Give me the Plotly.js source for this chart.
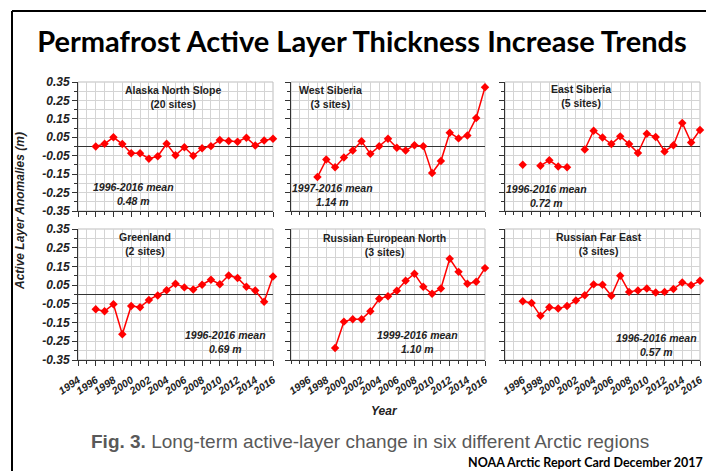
<!DOCTYPE html>
<html><head><meta charset="utf-8">
<script src="https://cdn.plot.ly/plotly-3.0.1.min.js"></script>
<style>html,body{margin:0;padding:0;background:#fff}#chart{width:706px;height:471px}</style>
</head><body><div id="chart"></div>
<script>
// ---- data ----
const years = [1996,1997,1998,1999,2000,2001,2002,2003,2004,2005,2006,2007,2008,2009,2010,2011,2012,2013,2014,2015,2016];
const alaska      = [0.000,0.015,0.050,0.013,-0.037,-0.037,-0.066,-0.053,0.015,-0.048,-0.004,-0.050,-0.010,0.002,0.035,0.030,0.026,0.048,0.005,0.033,0.042];
const westSiberia = [null,-0.166,-0.071,-0.113,-0.060,-0.022,0.029,-0.040,0.002,0.042,-0.007,-0.022,0.007,0.002,-0.144,-0.079,0.075,0.044,0.060,0.155,0.322];
const eastSiberia = [-0.099,null,-0.104,-0.075,-0.108,-0.113,null,-0.016,0.086,0.049,0.013,0.055,0.013,-0.035,0.069,0.051,-0.027,0.007,0.128,0.022,0.090];
const greenland   = [-0.079,-0.089,-0.052,-0.212,-0.061,-0.068,-0.029,-0.005,0.023,0.057,0.038,0.027,0.052,0.079,0.055,0.102,0.088,0.041,0.021,-0.039,0.096];
const ruEuroNorth = [null,null,null,-0.286,-0.145,-0.132,-0.132,-0.089,-0.023,-0.009,0.020,0.073,0.111,0.041,0.004,0.032,0.191,0.121,0.057,0.068,0.141];
const ruFarEast   = [-0.036,-0.045,-0.114,-0.068,-0.075,-0.062,-0.032,-0.004,0.054,0.052,-0.007,0.100,0.014,0.021,0.032,0.011,0.014,0.029,0.064,0.050,0.073];

const regionNames = ['Alaska North Slope','West Siberia','East Siberia','Greenland','Russian European North','Russian Far East'];
const siteCounts  = ['(20 sites)','(3 sites)','(5 sites)','(2 sites)','(3 sites)','(3 sites)'];
const meanPeriods = ['1996-2016 mean','1997-2016 mean','1996-2016 mean','1996-2016 mean','1999-2016 mean','1996-2016 mean'];
const meanValues  = ['0.48 m','1.14 m','0.72 m','0.69 m','1.10 m','0.57 m'];
const seriesList  = [alaska, westSiberia, eastSiberia, greenland, ruEuroNorth, ruFarEast];

const yTickVals = [0.35,0.25,0.15,0.05,-0.05,-0.15,-0.25,-0.35];
const yTickText = ['0.35','0.25','0.15','0.05','-0.05','-0.15','-0.25','-0.35'];
const xTickValsFull = [1994,1996,1998,2000,2002,2004,2006,2008,2010,2012,2014,2016];
const xTickValsShort = [1996,1998,2000,2002,2004,2006,2008,2010,2012,2014,2016];

// ---- layout helpers ----
const W = 706, H = 471;
const px = v => v / W;
const py = v => 1 - v / H;
const colPx = [[78,273],[291,485],[505,700]];
const rowPx = [[82,211],[229,360]];
const namePos = [[173,96.5],[330.5,97],[581,96],[144.5,244],[384,245],[599,244]];
const meanPos = [[133,193.5],[332,194.5],[546,196],[225.5,341.5],[417,341.5],[656,344.5]];

const gridCol = '#d4d4d4';
const axCol = '#333333';
const lblFont = {family:'Liberation Sans, Arial, sans-serif', size:12, color:'#222', weight:'bold', style:'italic'};

const traces = [];
const layout = {
  width: W, height: H,
  margin: {l:0,r:0,t:0,b:0},
  paper_bgcolor:'#fff', plot_bgcolor:'#fff',
  showlegend:false,
  title: {text:'Permafrost Active Layer Thickness Increase Trends',
          font:{family:'Lato, Open Sans, sans-serif', size:29, color:'#000', weight:'bold'},
          x: px(362), xanchor:'center', y: py(42), yanchor:'middle', xref:'paper', yref:'paper'},
  annotations: [], shapes: []
};

for (let i = 0; i < 6; i++) {
  const r = Math.floor(i/3), c = i % 3;
  const n = i + 1;
  const xa = 'xaxis' + (n === 1 ? '' : n), ya = 'yaxis' + (n === 1 ? '' : n);
  const xs = 'x' + (n === 1 ? '' : n), ys = 'y' + (n === 1 ? '' : n);
  traces.push({
    x: years, y: seriesList[i], xaxis: xs, yaxis: ys,
    type:'scatter', mode:'lines+markers', connectgaps:false, cliponaxis:false,
    line:{color:'#ff0000', width:1.5},
    marker:{symbol:'diamond', size:6.5, color:'#ff0000'},
    hoverinfo:'skip'
  });
  const tv = (c === 0) ? xTickValsFull : xTickValsShort;
  layout[xa] = {
    domain:[px(colPx[c][0]), px(colPx[c][1])], anchor: ys,
    range:[1994,2016], fixedrange:true,
    tickmode:'array', tickvals: tv, ticktext: tv.map(String),
    showticklabels: r === 1, tickangle:-35, ticklabelstandoff:4,
    tickfont:{family:'Liberation Sans, Arial, sans-serif', size:10.5, color:'#222', weight:'bold', style:'italic'},
    ticks:'outside', ticklen:5, tickcolor:axCol, tickwidth:1,
    showgrid:true, gridcolor:gridCol, gridwidth:1,
    minor:{dtick:1, tick0:1994, ticks:'outside', ticklen:3, tickcolor:axCol, showgrid:true, gridcolor:gridCol, gridwidth:1},
    showline:true, linecolor:axCol, linewidth:1, zeroline:false
  };
  layout[ya] = {
    domain:[py(rowPx[r][1]), py(rowPx[r][0])], anchor: xs,
    range:[-0.35,0.35], fixedrange:true,
    tickmode:'array', tickvals:yTickVals, ticktext:yTickText,
    showticklabels: c === 0, tickfont: lblFont,
    ticks:'outside', ticklen:5, tickcolor:axCol, tickwidth:1,
    showgrid:true, gridcolor:gridCol, gridwidth:1,
    minor:{dtick:0.05, tick0:0, ticks:'outside', ticklen:3, tickcolor:axCol, showgrid:true, gridcolor:gridCol, gridwidth:1},
    showline:true, linecolor:axCol, linewidth:1,
    zeroline:true, zerolinecolor:'#333', zerolinewidth:1.5
  };
  layout.shapes.push({type:'rect', xref: xs + ' domain', yref: ys + ' domain', x0:0, x1:1, y0:0, y1:1,
                      line:{color:'#bdbdbd', width:1}, layer:'below'});
  layout.annotations.push({
    text: regionNames[i] + '<br>' + siteCounts[i], showarrow:false,
    xref:'paper', yref:'paper', x: px(namePos[i][0]), y: py(namePos[i][1]),
    xanchor:'center', yanchor:'middle', align:'center',
    font:{family:'Liberation Sans, Arial, sans-serif', size:10.5, color:'#222', weight:'bold'}
  });
  layout.annotations.push({
    text: meanPeriods[i] + '<br>' + meanValues[i], showarrow:false,
    xref:'paper', yref:'paper', x: px(meanPos[i][0]), y: py(meanPos[i][1]),
    xanchor:'center', yanchor:'middle', align:'center',
    font:{family:'Liberation Sans, Arial, sans-serif', size:10.5, color:'#222', weight:'bold', style:'italic'}
  });
}

// axis titles, caption, credit
layout.annotations.push({text:'Active Layer Anomalies (m)', textangle:-90, showarrow:false,
  xref:'paper', yref:'paper', x: px(20), y: py(211), xanchor:'center', yanchor:'middle', font: lblFont});
layout.annotations.push({text:'Year', showarrow:false,
  xref:'paper', yref:'paper', x: px(384), y: py(411), xanchor:'center', yanchor:'middle', font: lblFont});
layout.annotations.push({text:'<b>Fig. 3.</b> Long-term active-layer change in six different Arctic regions', showarrow:false,
  xref:'paper', yref:'paper', x: px(370), y: py(441), xanchor:'center', yanchor:'middle',
  font:{family:'Liberation Sans, Arial, sans-serif', size:19, color:'#595959'}});
layout.annotations.push({text:'NOAA Arctic Report Card December 2017', showarrow:false,
  xref:'paper', yref:'paper', x: px(705), y: py(462), xanchor:'right', yanchor:'middle',
  font:{family:'Lato, Open Sans, sans-serif', size:12.5, color:'#000', weight:'bold'}});

// outer frame (left and top edges visible)
layout.shapes.push({type:'line', xref:'paper', yref:'paper', x0:px(12), x1:px(12), y0:0, y1:py(11), line:{color:'#000', width:2}});
layout.shapes.push({type:'line', xref:'paper', yref:'paper', x0:px(12), x1:1, y0:py(11), y1:py(11), line:{color:'#000', width:2}});

Plotly.newPlot('chart', traces, layout, {displayModeBar:false, staticPlot:true});
</script>
</body></html>
